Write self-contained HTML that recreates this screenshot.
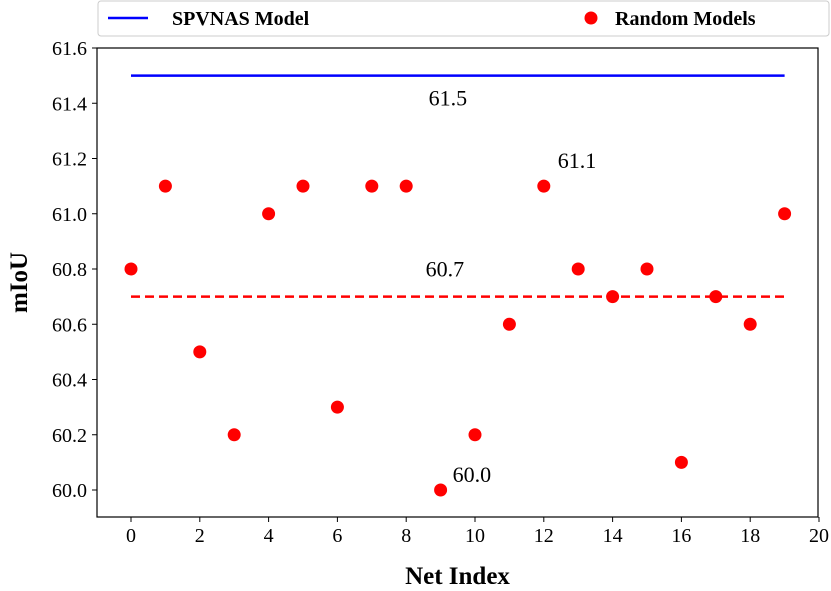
<!DOCTYPE html>
<html><head><meta charset="utf-8"><style>
body{margin:0;background:#fff;}
svg{display:block;font-family:"Liberation Serif",serif;}
</style></head><body>
<svg id="chart" width="831" height="591" xmlns="http://www.w3.org/2000/svg"></svg>
<script>
const netIndex=[0,1,2,3,4,5,6,7,8,9,10,11,12,13,14,15,16,17,18,19];
const miou=[60.8,61.1,60.5,60.2,61.0,61.1,60.3,61.1,61.1,60.0,60.2,60.6,61.1,60.8,60.7,60.8,60.1,60.7,60.6,61.0];
const spvnasValue=61.5;
const meanValue=60.7;
const xTicks=[0,2,4,6,8,10,12,14,16,18,20];
const yTicks=[60.0,60.2,60.4,60.6,60.8,61.0,61.2,61.4,61.6];
const annotations=[{x:9,y:60.0,t:"60.0",dx:12,dy:-8},{x:12,y:61.1,t:"61.1",dx:14,dy:-18},{x:9,y:61.5,t:"61.5",dx:-12,dy:30},{x:9,y:60.7,t:"60.7",dx:-15,dy:-20}];
const L=97,R=818,T=48,B=517;
const xs=v=>131+(v-0)*(819-131)/20;
const ys=v=>490-(v-60.0)*(490-48)/1.6;
const svg=document.getElementById('chart');
const NS='http://www.w3.org/2000/svg';
function mk(tag,attrs,parent){const e=document.createElementNS(NS,tag);for(const k in attrs)e.setAttribute(k,attrs[k]);(parent||svg).appendChild(e);return e;}
let e;
e=mk('rect',{x:L,y:T,width:R-L,height:B-T,fill:'none',stroke:'#000','stroke-width':1.2});


xTicks.forEach(v=>{
 mk('line',{x1:xs(v),x2:xs(v),y1:B,y2:B+5,stroke:'#000'});
 e=mk('text',{x:xs(v),y:B+25,'text-anchor':'middle','font-size':20});e.textContent=v;
 
 
});
yTicks.forEach(v=>{
 mk('line',{x1:L-5,x2:L,y1:ys(v),y2:ys(v),stroke:'#000'});
 e=mk('text',{x:L-10,y:ys(v)+7,'text-anchor':'end','font-size':20});e.textContent=v.toFixed(1);
 
 
});
e=mk('text',{x:(L+R)/2,y:584,'text-anchor':'middle','font-size':25,'font-weight':'bold'});e.textContent='Net Index';


e=mk('text',{x:0,y:0,'text-anchor':'middle','font-size':25,'font-weight':'bold',transform:`translate(27,${(T+B)/2}) rotate(-90)`});e.textContent='mIoU';


e=mk('line',{x1:xs(0),x2:xs(19),y1:ys(spvnasValue),y2:ys(spvnasValue),stroke:'#0000ff','stroke-width':2.5});


e=mk('line',{x1:xs(0),x2:xs(19),y1:ys(meanValue),y2:ys(meanValue),stroke:'#ff0000','stroke-width':2.5,'stroke-dasharray':'9,5'});


netIndex.forEach((n,i)=>{
 e=mk('circle',{cx:xs(n),cy:ys(miou[i]),r:6.5,fill:'#ff0000'});
 
 
});
annotations.forEach(a=>{
 e=mk('text',{x:xs(a.x)+a.dx,y:ys(a.y)+a.dy,'font-size':22});e.textContent=a.t;
 
 
});
const lg=mk('g',{});


mk('rect',{x:98,y:1,width:731,height:35,rx:3,fill:'#fff',stroke:'#ccc'},lg);
mk('line',{x1:108,x2:148,y1:18,y2:18,stroke:'#0000ff','stroke-width':2.5},lg);
e=mk('text',{x:172,y:25,'font-size':20,'font-weight':'bold'},lg);e.textContent='SPVNAS Model';


mk('circle',{cx:591,cy:18,r:6.5,fill:'#ff0000'},lg);
e=mk('text',{x:615,y:25,'font-size':20,'font-weight':'bold'},lg);e.textContent='Random Models';


</script>
</body></html>
